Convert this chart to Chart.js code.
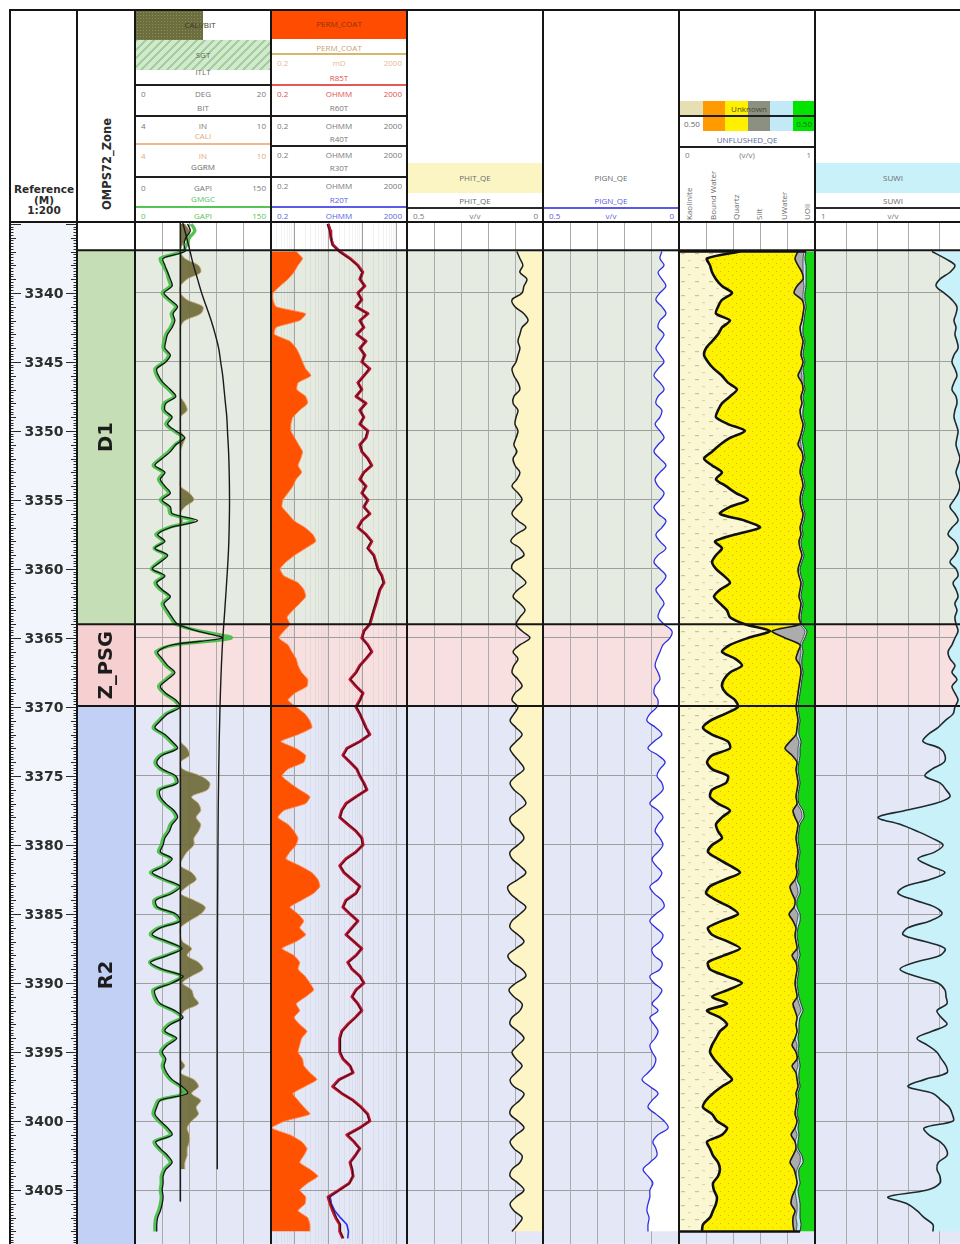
<!DOCTYPE html>
<html>
<head>
<meta charset="utf-8">
<title>Well log – OMPS72</title>
<script src="https://cdn.jsdelivr.net/npm/chart.js@4.4.1/dist/chart.umd.min.js"></script>
<style>
html,body{margin:0;padding:0;background:#fff;}
body{position:relative;width:960px;height:1244px;overflow:hidden;font-family:"Open Sans","DejaVu Sans",sans-serif;}
canvas.trk{position:absolute;top:222px;}
.t{position:absolute;font-size:8px;line-height:10px;color:#6a6a6a;white-space:nowrap;}
.c{transform:translateX(-50%);}
.r{transform:translateX(-100%);}
.blk{position:absolute;}
.vsep{position:absolute;top:10px;width:2px;height:1234px;background:#151515;z-index:5;}
.hsep{position:absolute;height:2px;background:#151515;z-index:5;}
.bold{font-family:"DejaVu Sans",sans-serif;font-weight:bold;color:#2b2b2b;}
</style>
</head>
<body>
<canvas id="cDepth" class="trk" width="67" height="1022" style="left:10px"></canvas>
<canvas id="cZone" class="trk" width="58" height="1022" style="left:77px"></canvas>
<canvas id="cT1" class="trk" width="136" height="1022" style="left:135px"></canvas>
<canvas id="cT2" class="trk" width="136" height="1022" style="left:271px"></canvas>
<canvas id="cT3" class="trk" width="136" height="1022" style="left:407px"></canvas>
<canvas id="cT4" class="trk" width="136" height="1022" style="left:543px"></canvas>
<canvas id="cT5" class="trk" width="136" height="1022" style="left:679px"></canvas>
<canvas id="cT6" class="trk" width="156" height="1022" style="left:815px"></canvas>

<script>
// ---------------------------------------------------------------------------
// Depth window (m) and sample depths
// ---------------------------------------------------------------------------
const VIEW_TOP = 3334.86;
const VIEW_BASE = 3408.91;

const sampleDepth = [
  3335, 3335.5, 3336, 3336.5, 3337, 3337.5, 3338, 3338.5, 3339, 3339.5,
  3340, 3340.5, 3341, 3341.5, 3342, 3342.5, 3343, 3343.5, 3344, 3344.5,
  3345, 3345.5, 3346, 3346.5, 3347, 3347.5, 3348, 3348.5, 3349, 3349.5,
  3350, 3350.5, 3351, 3351.5, 3352, 3352.5, 3353, 3353.5, 3354, 3354.5,
  3355, 3355.5, 3356, 3356.5, 3357, 3357.5, 3358, 3358.5, 3359, 3359.5,
  3360, 3360.5, 3361, 3361.5, 3362, 3362.5, 3363, 3363.5, 3364, 3364.5,
  3365, 3365.5, 3366, 3366.5, 3367, 3367.5, 3368, 3368.5, 3369, 3369.5,
  3370, 3370.5, 3371, 3371.5, 3372, 3372.5, 3373, 3373.5, 3374, 3374.5,
  3375, 3375.5, 3376, 3376.5, 3377, 3377.5, 3378, 3378.5, 3379, 3379.5,
  3380, 3380.5, 3381, 3381.5, 3382, 3382.5, 3383, 3383.5, 3384, 3384.5,
  3385, 3385.5, 3386, 3386.5, 3387, 3387.5, 3388, 3388.5, 3389, 3389.5,
  3390, 3390.5, 3391, 3391.5, 3392, 3392.5, 3393, 3393.5, 3394, 3394.5,
  3395, 3395.5, 3396, 3396.5, 3397, 3397.5, 3398, 3398.5, 3399, 3399.5,
  3400, 3400.5, 3401, 3401.5, 3402, 3402.5, 3403, 3403.5, 3404, 3404.5,
  3405, 3405.5, 3406, 3406.5, 3407, 3407.5, 3408, 3408.5
];

// Depth labels / 5 m grid
const depthLabels = [3340, 3345, 3350, 3355, 3360, 3365, 3370, 3375, 3380, 3385, 3390, 3395, 3400, 3405];

// Zonation
const zoneNames = ['D1', 'Z_PSG', 'R2'];
const zoneTop   = [3336.9, 3364.0, 3369.93];
const zoneBase  = [3364.0, 3369.93, 3408.9];
const zoneFill  = ['#c5deb5', '#f6cfd0', '#c3d0f6'];
const zoneTint  = ['#e5ebe1', '#f8e0e0', '#e4e8f6'];

// ---------------------------------------------------------------------------
// Track 1 – gamma ray, caliper, bit, deviation
// ---------------------------------------------------------------------------
const ggrm = [
  58, 61, 56, 54, 55, 31, 33, 36, 39, 41,
  32, 39, 47, 42, 44, 41, 36, 34, 33, 39,
  34, 24, 26, 31, 39, 45, 34, 33, 41, 36,
  45, 55, 45, 39, 30, 22, 33, 28, 33, 39,
  30, 39, 41, 69, 39, 25, 33, 22, 36, 28,
  19, 33, 24, 30, 39, 32, 36, 41, 47, 69,
  96, 41, 25, 30, 36, 44, 36, 28, 34, 45,
  50, 36, 28, 22, 33, 41, 47, 30, 24, 30,
  45, 47, 28, 28, 34, 43, 47, 41, 38, 33,
  31, 28, 41, 33, 19, 33, 50, 41, 23, 25,
  45, 50, 28, 19, 36, 52, 36, 17, 30, 53,
  41, 22, 23, 28, 44, 53, 39, 33, 46, 36,
  30, 34, 32, 35, 41, 52, 58, 28, 24, 22,
  28, 36, 41, 23, 28, 36, 41, 34, 31, 31,
  30, 31, 30, 28, 25, 24, 24, null
];
const gmgc = [
  62, 66, 60, 57, 52, 28, 31, 35, 37, 39,
  30, 37, 45, 40, 42, 39, 34, 32, 31, 37,
  32, 22, 24, 29, 37, 43, 32, 31, 39, 34,
  43, 53, 44, 37, 28, 20, 31, 26, 31, 37,
  28, 37, 39, 64, 37, 23, 31, 21, 34, 26,
  18, 31, 22, 28, 37, 30, 34, 39, 45, 72,
  106, 44, 23, 28, 34, 42, 34, 26, 32, 43,
  48, 34, 26, 20, 31, 39, 45, 28, 22, 28,
  43, 45, 26, 26, 32, 41, 45, 39, 36, 31,
  29, 26, 39, 31, 17, 31, 48, 39, 21, 23,
  43, 48, 26, 17, 34, 50, 34, 16, 28, 51,
  39, 20, 21, 26, 42, 51, 37, 31, 44, 34,
  28, 32, 30, 33, 39, 50, 55, 26, 22, 20,
  26, 34, 39, 21, 26, 34, 39, 32, 29, 29,
  28, 29, 28, 26, 23, 22, 22, null
];
const cali = [
  6.2, 6.4, 6.3, 6.1, 6.0, 6.2, 6.8, 6.9, 6.3, 6.0,
  6.0, 6.3, 7.0, 6.9, 6.2, 6.0, 6.0, 6.0, 6.0, 6.0,
  6.0, 6.0, 6.0, 6.0, 6.0, 6.0, 6.2, 6.3, 6.0, 6.0,
  6.0, 6.2, 6.1, 6.0, 6.0, 6.0, 6.0, 6.0, 6.0, 6.4,
  6.6, 6.2, 6.0, 6.1, 6.0, 6.0, 6.0, 6.0, 6.0, 6.0,
  6.0, 6.0, 6.0, 6.0, 6.0, 6.0, 6.0, 6.0, 6.0, 6.0,
  6.0, 6.0, 6.0, 6.0, 6.0, 6.0, 6.0, 6.0, 6.0, 6.0,
  6.0, 6.0, 6.0, 6.0, 6.0, 6.0, 6.3, 6.4, 6.0, 6.1,
  6.9, 7.3, 7.2, 6.5, 6.8, 6.9, 6.7, 6.9, 6.8, 6.6,
  6.6, 6.3, 6.1, 6.0, 6.5, 6.7, 6.3, 6.0, 6.6, 7.1,
  6.9, 6.4, 6.0, 6.0, 6.1, 6.5, 6.3, 6.8, 7.0, 6.5,
  6.1, 6.5, 6.6, 6.8, 6.2, 6.0, 6.0, 6.0, 6.0, 6.0,
  6.0, 6.0, 6.2, 6.0, 6.6, 6.8, 6.5, 6.9, 6.7, 6.8,
  6.5, 6.3, 6.4, 6.4, 6.3, 6.3, 6.2, 6.2, null, null,
  null, null, null, null, null, null, null, null
];
const bitDepth = [3334.86, 3405.8];
const bitSize  = [6.0, 6.0];
const itltDepth = [3334.86, 3336, 3337, 3338, 3339, 3340, 3341, 3342, 3343, 3344, 3345, 3346, 3347, 3348,
                   3349, 3350, 3352, 3355, 3358, 3360, 3363, 3366, 3370, 3375, 3380, 3390, 3400, 3403.5];
const itltDeg   = [7.0, 7.6, 8.1, 8.6, 9.2, 9.8, 10.5, 11.2, 11.8, 12.3, 12.6, 12.9, 13.1, 13.3,
                   13.5, 13.6, 13.8, 13.9, 13.8, 13.6, 13.2, 12.8, 12.5, 12.3, 12.2, 12.1, 12.1, 12.1];

// ---------------------------------------------------------------------------
// Track 2 – permeability and resistivities
// ---------------------------------------------------------------------------
const permCoat = [
  null, null, null, null, 1.1, 1.7, 1.25, 0.95, 0.63, 0.37,
  0.23, 0.23, 0.28, 2.1, 1.4, 0.28, 0.25, 0.72, 1.1, 1.4,
  1.7, 2.1, 3.0, 1.25, 1.15, 2.1, 2.4, 1.4, 0.88, 0.77,
  0.77, 1.0, 1.3, 1.7, 1.5, 1.25, 1.6, 1.1, 0.88, 0.63,
  0.45, 0.42, 0.63, 0.95, 2.0, 3.4, 4.2, 2.1, 1.0, 0.55,
  0.37, 0.48, 1.25, 1.85, 2.1, 1.4, 0.88, 0.59, 0.72, 0.48,
  0.34, 0.63, 0.82, 1.1, 1.25, 1.6, 2.4, 2.3, 1.0, 0.63,
  1.1, 2.0, 2.8, 3.2, 1.25, 0.39, 1.1, 2.1, 1.85, 0.63,
  0.42, 0.72, 1.4, 2.8, 2.1, 0.48, 0.32, 0.63, 0.95, 1.25,
  1.1, 0.72, 0.55, 1.4, 3.2, 4.8, 5.5, 3.6, 1.6, 0.72,
  1.25, 1.85, 1.4, 2.1, 1.1, 0.42, 0.95, 1.4, 1.25, 2.0,
  2.8, 3.6, 2.1, 1.1, 1.4, 0.95, 1.4, 2.3, 1.6, 1.4,
  1.25, 1.7, 1.85, 2.8, 4.5, 2.0, 0.88, 1.25, 1.85, 2.8,
  0.52, 0.21, 0.72, 1.6, 2.3, 1.85, 1.4, 2.8, 4.8, 2.4,
  1.4, 2.1, 2.0, 1.25, 2.4, 2.8, 2.8, null
];
const r85t = [
  9.5, 11, 11.5, 13, 21, 42, 72, 100, 82, 116,
  72, 94, 63, 142, 82, 108, 67, 125, 82, 116,
  94, 162, 108, 72, 94, 63, 125, 82, 108, 82,
  142, 125, 82, 94, 142, 185, 108, 82, 125, 94,
  142, 108, 162, 94, 72, 125, 185, 142, 212, 245,
  280, 367, 420, 320, 280, 245, 212, 185, 162, 108,
  94, 142, 185, 125, 82, 63, 42, 63, 102, 82,
  63, 82, 102, 125, 162, 82, 34, 26, 42, 67,
  82, 108, 133, 63, 32, 24, 21, 36, 63, 94,
  102, 63, 32, 21, 28, 48, 82, 63, 32, 26,
  42, 72, 48, 32, 55, 94, 63, 36, 48, 82,
  108, 63, 48, 72, 94, 60, 36, 24, 21, 21,
  21, 26, 42, 52, 20, 13, 24, 52, 90, 140,
  162, 80, 34, 55, 82, 60, 42, 48, 52, 40,
  20, 9.5, 11, 13, 16, 21, 21, 26
];
const r40t = [
  9.0, 10.5, 11.8, 12.5, 20, 40, 70, 96, 85, 110,
  75, 90, 66, 135, 85, 104, 70, 120, 85, 112,
  98, 150, 112, 75, 90, 66, 120, 85, 104, 85,
  135, 120, 85, 98, 135, 176, 112, 85, 120, 98,
  135, 112, 155, 98, 75, 120, 176, 135, 205, 236,
  270, 350, 400, 310, 270, 236, 205, 178, 155, 112,
  98, 135, 178, 120, 85, 66, 44, 66, 98, 85,
  66, 85, 98, 120, 155, 85, 36, 27, 44, 66,
  85, 104, 128, 66, 34, 25, 22, 38, 66, 90,
  98, 66, 34, 22, 29, 50, 80, 66, 34, 27,
  44, 70, 50, 34, 56, 90, 66, 38, 50, 80,
  104, 66, 50, 70, 90, 62, 38, 25, 22, 22,
  22, 27, 44, 50, 21, 14, 25, 50, 86, 135,
  155, 84, 36, 56, 80, 62, 44, 50, 50, 42,
  21, 10, 11.5, 14, 17, 22, 22, 27
];
const r20t = [
  10, 11.5, 12, 13.5, 22, 44, 70, 95, 80, 112,
  70, 92, 62, 138, 80, 105, 65, 122, 80, 112,
  92, 158, 105, 70, 92, 62, 122, 80, 105, 80,
  138, 122, 80, 92, 138, 180, 105, 80, 122, 92,
  138, 105, 158, 92, 70, 122, 180, 138, 205, 238,
  272, 356, 408, 312, 272, 238, 205, 180, 158, 105,
  92, 138, 180, 122, 80, 62, 42, 62, 100, 80,
  62, 80, 100, 122, 158, 80, 34, 26, 42, 66,
  80, 105, 130, 62, 32, 24, 21, 36, 62, 92,
  100, 62, 32, 21, 28, 48, 80, 62, 32, 26,
  42, 70, 48, 32, 54, 92, 62, 36, 48, 80,
  105, 62, 48, 70, 92, 60, 36, 24, 21, 21,
  21, 26, 42, 52, 20, 13, 24, 52, 90, 138,
  158, 80, 34, 54, 80, 60, 42, 48, 52, 40,
  21, 11, 12, 15, 22, 34, 38, 36
];

// ---------------------------------------------------------------------------
// Tracks 3 & 4 – porosities
// ---------------------------------------------------------------------------
const phitQE = [
  null, null, null, null, .096, .085, .074, .085, .059, .070,
  .077, .114, .103, .070, .055, .077, .085, .092, .085, .092,
  .099, .114, .107, .092, .085, .107, .110, .092, .099, .103,
  .092, .099, .107, .096, .110, .103, .085, .096, .114, .092,
  .077, .099, .114, .092, .063, .099, .118, .085, .070, .107,
  .114, .085, .063, .092, .110, .085, .066, .085, .099, .077,
  .048, .085, .110, .092, .107, .114, .092, .077, .103, .114,
  .092, .107, .121, .099, .077, .099, .121, .107, .085, .070,
  .099, .121, .107, .077, .063, .092, .121, .114, .085, .070,
  .092, .121, .114, .085, .063, .092, .129, .121, .092, .063,
  .085, .114, .121, .092, .070, .099, .129, .114, .077, .063,
  .099, .125, .107, .077, .085, .114, .121, .092, .070, .092,
  .114, .099, .077, .099, .121, .107, .070, .085, .114, .121,
  .092, .070, .099, .121, .107, .077, .085, .114, .121, .092,
  .070, .099, .121, .107, .077, .092, .114, null
];
const pignQE = [
  null, null, null, null, .063, .070, .055, .077, .063, .048,
  .070, .085, .063, .048, .070, .077, .055, .070, .085, .070,
  .055, .077, .092, .070, .055, .077, .085, .063, .070, .088,
  .070, .055, .077, .092, .070, .048, .070, .088, .077, .055,
  .070, .092, .077, .048, .063, .085, .070, .048, .077, .092,
  .070, .048, .063, .085, .070, .055, .070, .077, .055, .026,
  .033, .059, .070, .081, .088, .077, .070, .088, .092, .077,
  .081, .107, .118, .085, .063, .092, .114, .077, .051, .070,
  .081, .063, .059, .085, .107, .077, .059, .077, .088, .070,
  .059, .077, .099, .085, .063, .077, .107, .092, .063, .055,
  .085, .107, .085, .059, .070, .099, .092, .063, .070, .107,
  .092, .063, .077, .099, .077, .107, .092, .077, .088, .107,
  .099, .085, .092, .114, .136, .107, .077, .099, .114, .085,
  .055, .040, .077, .096, .085, .081, .107, .132, .114, .096,
  .107, .107, .114, .118, .110, .114, .114, null
];

// ---------------------------------------------------------------------------
// Track 5 – unflushed mineral / fluid volumes (cumulative, v/v)
// ---------------------------------------------------------------------------
const kaoliniteTop = [
  null, null, null, null, .449, .206, .228, .243, .272, .316,
  .390, .316, .287, .272, .375, .316, .287, .243, .199, .184,
  .213, .257, .316, .360, .426, .375, .316, .287, .272, .360,
  .485, .375, .301, .243, .184, .243, .316, .272, .346, .419,
  .507, .375, .301, .485, .596, .412, .265, .316, .272, .243,
  .272, .331, .375, .301, .257, .301, .353, .375, .485, .669,
  .507, .375, .316, .412, .463, .375, .331, .316, .346, .412,
  .434, .338, .228, .176, .243, .360, .375, .243, .206, .243,
  .360, .346, .243, .228, .287, .375, .316, .272, .287, .316,
  .243, .213, .287, .375, .449, .338, .228, .199, .272, .375,
  .434, .316, .213, .243, .360, .449, .331, .213, .228, .346,
  .463, .360, .243, .353, .206, .301, .353, .301, .272, .243,
  .228, .257, .301, .346, .390, .316, .250, .199, .176, .243,
  .279, .353, .316, .206, .228, .250, .287, .301, .287, .250,
  .257, .279, .272, .250, .228, .176, .169, null
];
const quartzTop = [
  null, null, null, null, .875, .853, .875, .904, .912, .868,
  .846, .904, .919, .912, .904, .890, .897, .912, .904, .897,
  .912, .897, .875, .904, .912, .897, .904, .890, .897, .912,
  .904, .890, .875, .904, .912, .897, .890, .904, .912, .897,
  .890, .897, .912, .904, .890, .897, .882, .890, .904, .890,
  .875, .882, .897, .890, .882, .897, .890, .882, .890, .684,
  .779, .890, .875, .860, .890, .897, .890, .882, .875, .868,
  .860, .868, .875, .868, .860, .816, .779, .831, .868, .860,
  .868, .875, .868, .860, .868, .838, .853, .875, .868, .860,
  .868, .875, .868, .860, .868, .853, .816, .831, .853, .846,
  .809, .838, .860, .853, .860, .868, .831, .860, .868, .860,
  .853, .860, .868, .838, .853, .868, .860, .868, .853, .831,
  .860, .868, .831, .860, .868, .875, .860, .868, .860, .853,
  .868, .853, .824, .853, .860, .838, .816, .846, .860, .868,
  .853, .831, .824, .853, .838, .838, .846, null
];
const siltTop = [
  null, null, null, null, .919, .912, .912, .912, .912, .919,
  .912, .912, .919, .912, .904, .890, .897, .912, .904, .897,
  .912, .897, .904, .904, .912, .897, .904, .890, .897, .912,
  .904, .890, .897, .904, .912, .897, .890, .904, .912, .897,
  .890, .897, .912, .904, .890, .897, .882, .890, .904, .890,
  .875, .882, .897, .890, .882, .897, .890, .882, .890, .926,
  .912, .890, .897, .890, .890, .897, .890, .882, .875, .868,
  .860, .868, .875, .868, .860, .882, .875, .875, .868, .860,
  .868, .875, .868, .860, .868, .897, .904, .875, .868, .860,
  .868, .875, .868, .860, .868, .853, .868, .875, .853, .846,
  .875, .868, .860, .853, .860, .868, .875, .860, .868, .860,
  .853, .860, .868, .882, .897, .868, .860, .868, .853, .868,
  .860, .868, .875, .860, .868, .875, .860, .868, .860, .853,
  .868, .853, .868, .853, .860, .890, .890, .868, .860, .868,
  .853, .860, .868, .868, .860, .868, .860, null
];
const waterTop = [
  null, null, null, null, .934, .926, .934, .934, .934, .934,
  .926, .926, .934, .926, .919, .912, .912, .926, .919, .912,
  .926, .912, .919, .919, .926, .912, .919, .912, .912, .926,
  .919, .904, .912, .919, .926, .912, .904, .919, .926, .912,
  .904, .912, .926, .919, .904, .912, .897, .904, .919, .904,
  .890, .897, .912, .904, .897, .912, .904, .897, .904, .941,
  .926, .904, .912, .904, .904, .912, .904, .897, .890, .882,
  .875, .882, .890, .882, .882, .897, .890, .890, .882, .875,
  .882, .890, .882, .875, .882, .912, .919, .890, .882, .875,
  .882, .890, .882, .875, .882, .868, .890, .890, .868, .868,
  .890, .890, .875, .868, .875, .882, .890, .875, .882, .875,
  .868, .875, .882, .897, .912, .890, .882, .882, .875, .882,
  .875, .882, .890, .882, .882, .890, .875, .882, .875, .868,
  .882, .875, .882, .875, .875, .904, .912, .882, .882, .890,
  .875, .882, .890, .890, .890, .897, .890, null
];

// ---------------------------------------------------------------------------
// Track 6 – water saturation
// ---------------------------------------------------------------------------
const suwi = [
  null, null, null, null, .250, .167, .103, .135, .199, .224,
  .173, .122, .090, .096, .109, .096, .103, .090, .083, .109,
  .122, .103, .090, .109, .122, .096, .090, .103, .109, .096,
  .083, .090, .096, .083, .071, .083, .096, .083, .071, .083,
  .109, .135, .103, .083, .122, .147, .103, .083, .103, .135,
  .096, .083, .115, .096, .083, .103, .090, .103, .096, .083,
  .103, .122, .147, .135, .103, .122, .090, .122, .103, .083,
  .103, .115, .167, .212, .276, .308, .199, .167, .173, .250,
  .295, .199, .160, .135, .231, .423, .596, .455, .346, .250,
  .179, .231, .340, .263, .167, .263, .423, .468, .359, .231,
  .186, .263, .404, .436, .295, .167, .199, .359, .455, .359,
  .212, .167, .160, .154, .218, .190, .154, .250, .346, .280,
  .220, .190, .160, .154, .300, .404, .244, .190, .140, .120,
  .115, .300, .270, .199, .160, .154, .210, .218, .199, .199,
  .280, .532, .410, .346, .300, .244, .244, null
];

// Vertical grid values per track
const grGrid = [30, 60, 90, 120];
const permGridMajor = [1, 10, 100, 1000];
const permGridMinor = [0.3, 0.4, 0.5, 0.6, 0.7, 0.8, 0.9, 2, 3, 4, 5, 6, 7, 8, 9,
                       20, 30, 40, 50, 60, 70, 80, 90, 200, 300, 400, 500, 600, 700, 800, 900];
const porGrid = [0.1, 0.2, 0.3, 0.4];
const fracGrid = [0.2, 0.4, 0.6, 0.8];

// ---------------------------------------------------------------------------
// Helpers
// ---------------------------------------------------------------------------
const pts = (vals, depths = sampleDepth) => vals.map((v, i) => ({ x: v, y: depths[i] }));

function depthScale() {
  return {
    type: 'linear', min: VIEW_TOP, max: VIEW_BASE, reverse: true,
    afterBuildTicks: s => { s.ticks = depthLabels.map(v => ({ value: v })); },
    grid: { color: '#9d9d9d', lineWidth: 1, drawTicks: false },
    ticks: { display: false }, border: { display: false }
  };
}
function gridScale(min, max, grid, extra) {
  return Object.assign({
    axis: 'x', type: 'linear', min, max,
    afterBuildTicks: s => { s.ticks = grid.map(v => ({ value: v })); },
    grid: { color: '#ababab', lineWidth: 1, drawTicks: false },
    ticks: { display: false }, border: { display: false }
  }, extra || {});
}
function hiddenScale(min, max) {
  return { axis: 'x', type: 'linear', min, max, display: false };
}

// Zone tint behind each track
const zoneBands = {
  id: 'zoneBands',
  beforeDraw(chart) {
    const { ctx, chartArea: a, scales: { y } } = chart;
    ctx.save();
    zoneNames.forEach((n, i) => {
      const t = y.getPixelForValue(zoneTop[i]);
      const b = y.getPixelForValue(zoneBase[i]);
      ctx.fillStyle = zoneTint[i];
      ctx.fillRect(a.left, t, a.right - a.left, b - t);
    });
    ctx.restore();
  }
};
// Zone top markers across tracks
const zoneLines = {
  id: 'zoneLines',
  afterDatasetsDraw(chart) {
    const { ctx, chartArea: a, scales: { y } } = chart;
    ctx.save();
    ctx.strokeStyle = '#161616';
    ctx.lineWidth = 2;
    zoneTop.forEach(d => {
      const py = y.getPixelForValue(d);
      ctx.beginPath(); ctx.moveTo(a.left, py); ctx.lineTo(a.right, py); ctx.stroke();
    });
    ctx.restore();
  }
};

function trackChart(id, scales, datasets, tension, extraPlugins) {
  return new Chart(document.getElementById(id), {
    type: 'line',
    data: { datasets },
    options: {
      indexAxis: 'y', responsive: false, animation: false, events: [],
      layout: { padding: 0 },
      plugins: { legend: { display: false }, tooltip: { enabled: false } },
      elements: { point: { radius: 0 }, line: { tension: tension, borderJoinStyle: 'round', capBezierPoints: true } },
      scales: Object.assign({ y: depthScale() }, scales)
    },
    plugins: [zoneBands, zoneLines].concat(extraPlugins || [])
  });
}

function makePattern(w, h, bg, draw) {
  const c = document.createElement('canvas');
  c.width = w; c.height = h;
  const g = c.getContext('2d');
  g.fillStyle = bg; g.fillRect(0, 0, w, h);
  draw(g);
  return g.createPattern(c, 'repeat');
}

// ---------------------------------------------------------------------------
// Depth ruler
// ---------------------------------------------------------------------------
const depthRuler = {
  id: 'depthRuler',
  beforeDraw(chart) {
    const { ctx, chartArea: a } = chart;
    ctx.save();
    ctx.fillStyle = '#f2f5fb';
    ctx.fillRect(a.left, a.top, a.right - a.left, a.bottom - a.top);
    ctx.restore();
  },
  afterDraw(chart) {
    const { ctx, chartArea: a, scales: { y } } = chart;
    ctx.save();
    ctx.strokeStyle = '#2a2a2a';
    ctx.lineWidth = 1;
    const first = Math.ceil(VIEW_TOP * 5), last = Math.floor(VIEW_BASE * 5);
    for (let i = first; i <= last; i++) {
      const py = Math.round(y.getPixelForValue(i / 5)) + 0.5;
      const len = (i % 25 === 0) ? 11 : (i % 5 === 0 ? 6 : 3.5);
      ctx.beginPath();
      ctx.moveTo(a.left, py); ctx.lineTo(a.left + len, py);
      ctx.moveTo(a.right - len, py); ctx.lineTo(a.right, py);
      ctx.stroke();
    }
    ctx.font = 'bold 14px "DejaVu Sans", sans-serif';
    ctx.textAlign = 'center';
    ctx.textBaseline = 'middle';
    const cx = (a.left + a.right) / 2 + 0.5;
    depthLabels.forEach(d => {
      const py = y.getPixelForValue(d);
      ctx.fillStyle = '#f2f5fb';
      ctx.fillRect(cx - 22, py - 8, 44, 16);
      ctx.fillStyle = '#2e2e2e';
      ctx.fillText(String(d), cx, py + 1);
    });
    ctx.restore();
  }
};

new Chart(document.getElementById('cDepth'), {
  type: 'scatter',
  data: { datasets: [] },
  options: {
    responsive: false, animation: false, events: [], layout: { padding: 0 },
    plugins: { legend: { display: false }, tooltip: { enabled: false } },
    scales: {
      x: { display: false, min: 0, max: 1 },
      y: { type: 'linear', min: VIEW_TOP, max: VIEW_BASE, reverse: true, display: false }
    }
  },
  plugins: [depthRuler]
});

// ---------------------------------------------------------------------------
// Zone column (floating bars)
// ---------------------------------------------------------------------------
const zoneLabels = {
  id: 'zoneLabels',
  afterDatasetsDraw(chart) {
    const { ctx, chartArea: a } = chart;
    ctx.save();
    ctx.fillStyle = '#1c1c1c';
    ctx.font = 'bold 19.5px "DejaVu Sans", sans-serif';
    ctx.textAlign = 'center';
    ctx.textBaseline = 'middle';
    chart.data.datasets.forEach((ds, i) => {
      const bar = chart.getDatasetMeta(i).data[0];
      const top = Math.max(Math.min(bar.y, bar.base), a.top);
      const bot = Math.min(Math.max(bar.y, bar.base), a.bottom);
      ctx.save();
      ctx.translate(bar.x + 1, (top + bot) / 2);
      ctx.rotate(-Math.PI / 2);
      ctx.fillText(zoneNames[i], 0, 0);
      ctx.restore();
    });
    ctx.restore();
  }
};
new Chart(document.getElementById('cZone'), {
  type: 'bar',
  data: {
    labels: ['OMPS72_Zone'],
    datasets: zoneNames.map((n, i) => ({
      label: n, data: [[zoneTop[i], zoneBase[i]]], backgroundColor: zoneFill[i],
      borderWidth: 0, grouped: false, barPercentage: 1, categoryPercentage: 1
    }))
  },
  options: {
    responsive: false, animation: false, events: [], layout: { padding: 0 },
    plugins: { legend: { display: false }, tooltip: { enabled: false } },
    scales: {
      x: { display: false },
      y: { type: 'linear', min: VIEW_TOP, max: VIEW_BASE, reverse: true, display: false }
    }
  },
  plugins: [zoneLabels, zoneLines]
});

// ---------------------------------------------------------------------------
// Track 1
// ---------------------------------------------------------------------------
trackChart('cT1', {
  x: gridScale(0, 150, grGrid),
  xCali: hiddenScale(4, 10),
  xItlt: hiddenScale(0, 20)
}, [
  { label: 'GGRM', data: pts(ggrm), xAxisID: 'x', borderColor: '#151515', borderWidth: 1.3, fill: false },
  { label: 'ITLT', data: pts(itltDeg, itltDepth), xAxisID: 'xItlt', borderColor: '#1a1a1a', borderWidth: 1.4, tension: 0.4, fill: false },
  { label: 'BIT', data: pts(bitSize, bitDepth), xAxisID: 'xCali', borderColor: '#1a1a1a', borderWidth: 1.6, tension: 0, fill: false },
  { label: 'GMGC', data: pts(gmgc), xAxisID: 'x', borderColor: 'rgba(74,190,74,0.95)', borderWidth: 3.4, fill: false },
  { label: 'CALI', data: pts(cali), xAxisID: 'xCali', borderColor: 'rgba(196,170,120,0.9)', borderWidth: 1,
    backgroundColor: 'rgba(112,108,58,0.93)', fill: { value: bitSize[0] } }
], 0.3);

// ---------------------------------------------------------------------------
// Track 2
// ---------------------------------------------------------------------------
trackChart('cT2', {
  x: {
    type: 'logarithmic', min: 0.2, max: 2000,
    afterBuildTicks: s => { s.ticks = permGridMinor.concat(permGridMajor).map(v => ({ value: v })); },
    grid: {
      drawTicks: false, lineWidth: 1,
      color: c => permGridMajor.includes(c.tick && c.tick.value) ? '#a3a3a3' : 'rgba(150,150,150,0.12)'
    },
    ticks: { display: false }, border: { display: false }
  }
}, [
  { label: 'R40T', data: pts(r40t), borderColor: '#1b1b1b', borderWidth: 1, fill: false },
  { label: 'R85T', data: pts(r85t), borderColor: '#c8102e', borderWidth: 3, fill: false },
  { label: 'R20T', data: pts(r20t), borderColor: '#2b2bf0', borderWidth: 1.6, fill: false },
  { label: 'PERM_COAT', data: pts(permCoat), borderColor: 'rgba(255,140,90,0.9)', borderWidth: 1,
    backgroundColor: '#ff5200', fill: { value: 0.2 }, tension: 0.15 }
], 0);

// ---------------------------------------------------------------------------
// Tracks 3 & 4
// ---------------------------------------------------------------------------
trackChart('cT3', { x: gridScale(0, 0.5, porGrid, { reverse: true }) }, [
  { label: 'PHIT_QE', data: pts(phitQE), borderColor: '#1c1c1c', borderWidth: 1.5,
    backgroundColor: '#fdf5c5', fill: { value: 0 } }
], 0.35);

trackChart('cT4', { x: gridScale(0, 0.5, porGrid, { reverse: true }) }, [
  { label: 'PIGN_QE', data: pts(pignQE), borderColor: '#2f2fe0', borderWidth: 1.3,
    backgroundColor: '#ffffff', fill: { value: 0 } }
], 0.35);

// ---------------------------------------------------------------------------
// Track 5 – volumes
// ---------------------------------------------------------------------------
const kaolPattern = makePattern(14, 14, '#fbf7d3', g => {
  g.fillStyle = '#c9c4a0';
  g.fillRect(2, 3, 4, 1.2);
  g.fillStyle = '#dcd8b6';
  g.fillRect(9, 10, 3, 1.2);
});
const quartzPattern = makePattern(8, 8, '#fff200', g => {
  g.fillStyle = '#c9bc2a';
  g.fillRect(1, 1, 1, 1);
  g.fillRect(5, 5, 1, 1);
});
// closing strokes along the first and last volume samples
const volumeEnds = {
  id: 'volumeEnds',
  afterDatasetsDraw(chart) {
    const { ctx, scales: { x, y } } = chart;
    const valid = sampleDepth.map((d, i) => i).filter(i => waterTop[i] !== null);
    const ends = [valid[0], valid[valid.length - 1]];
    ctx.save();
    ctx.strokeStyle = '#111';
    ctx.lineWidth = 2.4;
    ends.forEach(i => {
      const py = y.getPixelForValue(sampleDepth[i]);
      ctx.beginPath();
      ctx.moveTo(x.getPixelForValue(0), py);
      ctx.lineTo(x.getPixelForValue(waterTop[i]), py);
      ctx.stroke();
    });
    ctx.restore();
  }
};
trackChart('cT5', { x: gridScale(0, 1, fracGrid) }, [
  { label: 'Kaolinite', data: pts(kaoliniteTop), borderColor: '#101010', borderWidth: 2.6,
    backgroundColor: kaolPattern, fill: { value: 0 } },
  { label: 'Quartz', data: pts(quartzTop), borderColor: '#1a1a1a', borderWidth: 1.6,
    backgroundColor: quartzPattern, fill: '-1' },
  { label: 'Silt', data: pts(siltTop), borderColor: '#3a3a3a', borderWidth: 0.8,
    backgroundColor: '#acacac', fill: '-1' },
  { label: 'UWater', data: pts(waterTop), borderColor: '#2a2a2a', borderWidth: 1,
    backgroundColor: '#bfe7f3', fill: '-1' },
  { label: 'UOil', data: pts(waterTop), borderColor: 'rgba(0,0,0,0)', borderWidth: 0,
    backgroundColor: '#14d414', fill: { value: 1 } }
], 0.25, [volumeEnds]);

// ---------------------------------------------------------------------------
// Track 6
// ---------------------------------------------------------------------------
trackChart('cT6', { x: gridScale(0, 1, fracGrid, { reverse: true }) }, [
  { label: 'SUWI', data: pts(suwi), borderColor: '#1f2a2e', borderWidth: 1.6,
    backgroundColor: '#c9f1fa', fill: { value: 0 } }
], 0.35);

// ---------------------------------------------------------------------------
// Header
// ---------------------------------------------------------------------------
function el(cls, styles, text) {
  const d = document.createElement('div');
  d.className = cls;
  Object.assign(d.style, styles);
  if (text !== undefined) d.textContent = text;
  document.body.appendChild(d);
  return d;
}
function txt(s, x, y, color, align) {
  const d = el('t' + (align === 'c' ? ' c' : align === 'r' ? ' r' : ''), { left: x + 'px', top: (y - 5) + 'px' }, s);
  if (color) d.style.color = color;
  return d;
}
function hline(x0, x1, y, color, w) {
  el('blk', { left: x0 + 'px', top: (y - w / 2) + 'px', width: (x1 - x0) + 'px', height: w + 'px', background: color });
}
function box(x, y, w, h, bg) { return el('blk', { left: x + 'px', top: y + 'px', width: w + 'px', height: h + 'px', background: bg }); }

const trackEdges = { t1: [135, 271], t2: [271, 407], t3: [407, 543], t4: [543, 679], t5: [679, 815], t6: [815, 971] };

// curve header blocks: track, name, name colour, line colour, line width, min, unit, max, scale colour, name y, line y, scale y
const curveHeads = [
  ['t1', 'ITLT', '#6a6a6a', '#1e1e1e', 1.5, '0', 'DEG', '20', '#777', 72, 85, 94],
  ['t1', 'BIT', '#777', '#1e1e1e', 2, '4', 'IN', '10', '#777', 108, 116, 126],
  ['t1', 'CALI', '#e2a878', '#ecb88c', 1.5, '4', 'IN', '10', '#e2a878', 136, 144, 156],
  ['t1', 'GGRM', '#666', '#1e1e1e', 1.5, '0', 'GAPI', '150', '#777', 167, 177, 188],
  ['t1', 'GMGC', '#5cc05c', '#55c455', 2.5, '0', 'GAPI', '150', '#5cc05c', 199, 207, 216],
  ['t2', 'PERM_COAT', '#c9a27a', '#d8b868', 1.5, '0.2', 'mD', '2000', '#e8b898', 48, 54, 63],
  ['t2', 'R85T', '#e05050', '#e05a5a', 2, '0.2', 'OHMM', '2000', '#e05050', 78, 85, 94],
  ['t2', 'R60T', '#777', '#1e1e1e', 2, '0.2', 'OHMM', '2000', '#777', 108, 116, 126],
  ['t2', 'R40T', '#777', '#1e1e1e', 1.5, '0.2', 'OHMM', '2000', '#777', 139, 146, 155],
  ['t2', 'R30T', '#777', '#1e1e1e', 1.5, '0.2', 'OHMM', '2000', '#777', 168, 177, 186],
  ['t2', 'R20T', '#5a64e0', '#5b5be8', 2, '0.2', 'OHMM', '2000', '#5a64e0', 200, 207, 216],
  ['t3', 'PHIT_QE', '#6a6a6a', '#2a2a2a', 1.5, '0.5', 'v/v', '0', '#777', 201, 208, 216],
  ['t4', 'PIGN_QE', '#5a5ae0', '#5a5ae6', 2, '0.5', 'v/v', '0', '#5a5ae0', 201, 208, 216],
  ['t6', 'SUWI', '#6a6a6a', '#2a2a2a', 1.5, '1', 'v/v', '0', '#777', 201, 208, 216]
];

// fill swatches
const olive = box(136, 11, 67, 29, '#6d6f3e');
olive.style.background = 'radial-gradient(circle, #8b8d5b 0.6px, transparent 0.9px) 0 0/3px 3px, #6c6e3d';
txt('CALI/BIT', 200, 25, '#3a3a2a', 'c');
const sgt = box(136, 40, 135, 30, '#cfe6cb');
sgt.style.background = 'repeating-linear-gradient(135deg, #a3cf9d 0px, #a3cf9d 2px, #d2e9cf 2px, #d2e9cf 6px)';
txt('SGT', 203, 55, '#5d6a5a', 'c');
box(272, 11, 135, 28, '#ff4c00');
txt('PERM_COAT', 339, 24, '#8a3410', 'c');
box(408, 163, 135, 30, '#fbf5c4');
txt('PHIT_QE', 475, 178, '#6a6a6a', 'c');
txt('PIGN_QE', 611, 178, '#6a6a6a', 'c');
box(816, 163, 155, 30, '#c9f1fa');
txt('SUWI', 893, 178, '#6a6a6a', 'c');

curveHeads.forEach(h => {
  const [tk, name, nc, lc, lw, mn, unit, mx, sc, yn, yl, ys] = h;
  const [x0, x1] = trackEdges[tk];
  const mid = (x0 + x1) / 2;
  txt(name, mid, yn, nc, 'c');
  hline(x0 + 1, x1 - 1, yl, lc, lw);
  txt(mn, x0 + 6, ys, sc, 'l');
  txt(unit, mid, ys, sc, 'c');
  txt(mx, x1 - 5, ys, sc, 'r');
});

// Volume track legend
const legendSwatches = [[680, 23, '#e6dfb2'], [703, 22, '#ff9a00'], [725, 23, '#fff000'],
                        [748, 22, '#8c9080'], [770, 23, '#c3e9f6'], [793, 21, '#00e400']];
legendSwatches.forEach(s => box(s[0], 101, s[1], 30, s[2]));
box(680, 117, 23, 14, '#ffffff');
hline(680, 814, 116, '#1e1e1e', 2);
txt('Unknown', 749, 109, '#4a4a2a', 'c');
txt('0.50', 684, 124, '#666', 'l');
txt('0.50', 812, 124, '#2a6a2a', 'r');
txt('UNFLUSHED_QE', 747, 140, '#5a6a9a', 'c');
hline(680, 814, 147, '#1e1e1e', 2);
txt('0', 685, 155, '#777', 'l');
txt('(v/v)', 747, 155, '#777', 'c');
txt('1', 811, 155, '#777', 'r');
const volNames = ['Kaolinite', 'Bound Water', 'Quartz', 'Silt', 'UWater', 'UOil'];
const volNameX = [689, 713, 736, 759, 784, 807];
volNames.forEach((n, i) => {
  el('t', { left: (volNameX[i] - 5) + 'px', top: '220px', transform: 'rotate(-90deg)', transformOrigin: '0 0' }, n);
});

// Depth and zone column headings
['Reference', '(M)', '1:200'].forEach((s, i) => {
  el('t bold c', { left: '44px', top: (184 + i * 10.5) + 'px', fontSize: '10.5px', lineHeight: '11px' }, s);
});
el('t bold', { left: '107px', top: '164px', fontSize: '11.5px', lineHeight: '12px',
               transform: 'translate(-50%,-50%) rotate(-90deg)' }, 'OMPS72_Zone');

// Frame lines
[10, 77, 135, 271, 407, 543, 679, 815].forEach(x => el('vsep', { left: (x - 1) + 'px' }));
el('hsep', { left: '9px', top: '9px', width: '960px' });
el('hsep', { left: '9px', top: '221px', width: '960px' });
</script>
</body>
</html>
